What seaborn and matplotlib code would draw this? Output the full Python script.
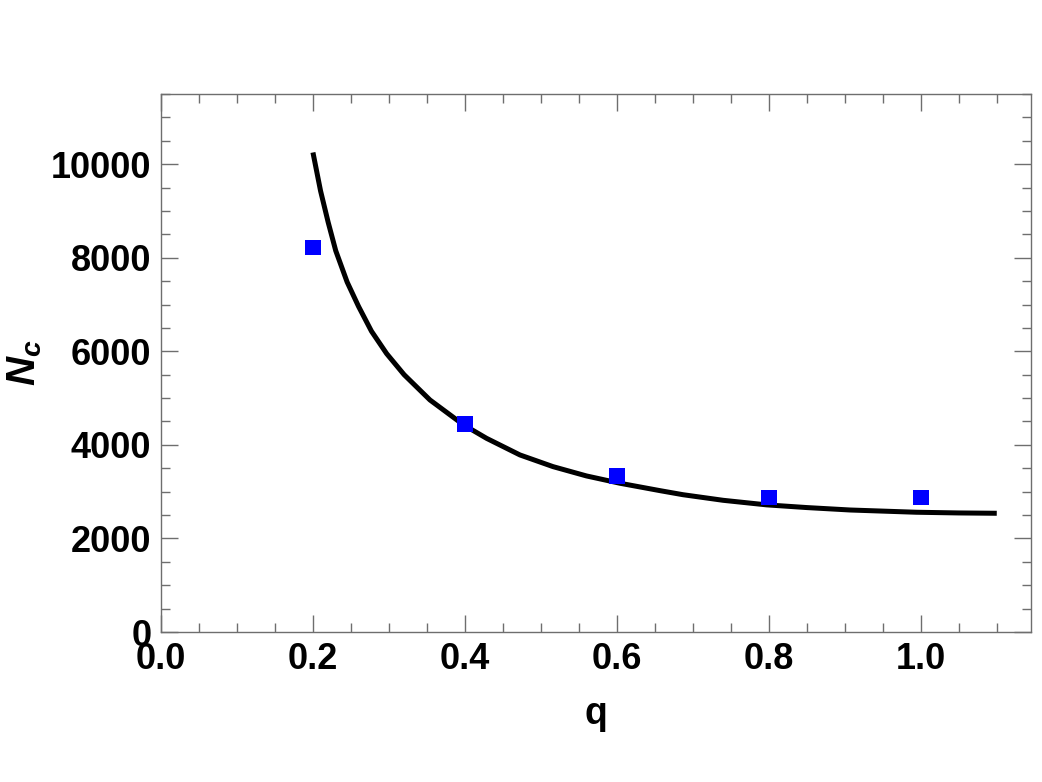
import matplotlib
matplotlib.use("Agg")
import matplotlib.pyplot as plt
import seaborn as sns
import pandas as pd
from matplotlib.ticker import MultipleLocator, FixedLocator

# ---- data ----
q_points = [0.2, 0.4, 0.6, 0.8, 1.0]
nc_points = [8220, 4450, 3340, 2875, 2872]

q_curve = [0.20, 0.21, 0.22, 0.23, 0.245, 0.26, 0.277, 0.297, 0.32, 0.354,
           0.398, 0.4285, 0.4724, 0.516, 0.560, 0.604, 0.657, 0.687, 0.74,
           0.797, 0.85, 0.907, 0.994, 1.05, 1.10]
nc_curve = [10250, 9430, 8760, 8150, 7480, 6960, 6430, 5950, 5500, 4960,
            4430, 4140, 3785, 3535, 3336, 3180, 3021, 2935, 2815,
            2718, 2660, 2608, 2560, 2545, 2538]

x_ticks = [0.0, 0.2, 0.4, 0.6, 0.8, 1.0]
x_ticklabels = ["0.0", "0.2", "0.4", "0.6", "0.8", "1.0"]
y_ticks = [0, 2000, 4000, 6000, 8000, 10000]
y_ticklabels = ["0", "2000", "4000", "6000", "8000", "10000"]

sns.set_style("ticks")
plt.rcParams["font.family"] = ["Liberation Sans", "DejaVu Sans"]
plt.rcParams["font.weight"] = "bold"
plt.rcParams["text.color"] = "black"
plt.rcParams["axes.labelcolor"] = "black"
plt.rcParams["xtick.labelcolor"] = "black"
plt.rcParams["ytick.labelcolor"] = "black"
plt.rcParams["mathtext.fontset"] = "custom"
plt.rcParams["mathtext.it"] = "Liberation Sans:italic:bold"
plt.rcParams["mathtext.rm"] = "Liberation Sans:bold"
plt.rcParams["mathtext.bf"] = "Liberation Sans:bold"

fig = plt.figure(figsize=(10.42, 7.82), dpi=100)
ax = fig.add_axes([0.1545, 0.1918, 0.9894 - 0.1545, 0.8798 - 0.1918])

df_curve = pd.DataFrame({"q": q_curve, "Nc": nc_curve})
df_pts = pd.DataFrame({"q": q_points, "Nc": nc_points})

line = sns.lineplot(data=df_curve, x="q", y="Nc", ax=ax, color="black",
                    linewidth=3.6, sort=False, zorder=2)
for ln in ax.get_lines():
    ln.set_solid_joinstyle("round")
    ln.set_solid_capstyle("butt")
sns.scatterplot(data=df_pts, x="q", y="Nc", ax=ax, marker="s", s=125,
                color="#0000ff", edgecolor="none", linewidth=0, zorder=3)

ax.set_xlim(0, 1.145)
ax.set_ylim(0, 11500)

ax.xaxis.set_major_locator(FixedLocator(x_ticks))
ax.set_xticklabels(x_ticklabels)
ax.yaxis.set_major_locator(FixedLocator(y_ticks))
ax.set_yticklabels(y_ticklabels)
ax.xaxis.set_minor_locator(MultipleLocator(0.05))
ax.yaxis.set_minor_locator(MultipleLocator(500))

grey = "#6e6e6e"
ax.tick_params(which="both", direction="in", top=True, right=True,
               color=grey, width=1.0, labelsize=26, pad=7,
               labelcolor="black")
ax.tick_params(which="major", length=12)
ax.tick_params(which="minor", length=6.5)
for lab in ax.get_xticklabels() + ax.get_yticklabels():
    lab.set_fontweight("bold")
for sp in ax.spines.values():
    sp.set_color(grey)
    sp.set_linewidth(1.0)
    sp.set_visible(True)

ax.set_xlabel("q", fontsize=27, fontweight="bold", labelpad=14, color="black")
ax.set_ylabel(r"$N_c$", fontsize=29, color="black")
ax.yaxis.set_label_coords(-0.135, 0.5)

fig.savefig("out.png", dpi=100, facecolor="white")
